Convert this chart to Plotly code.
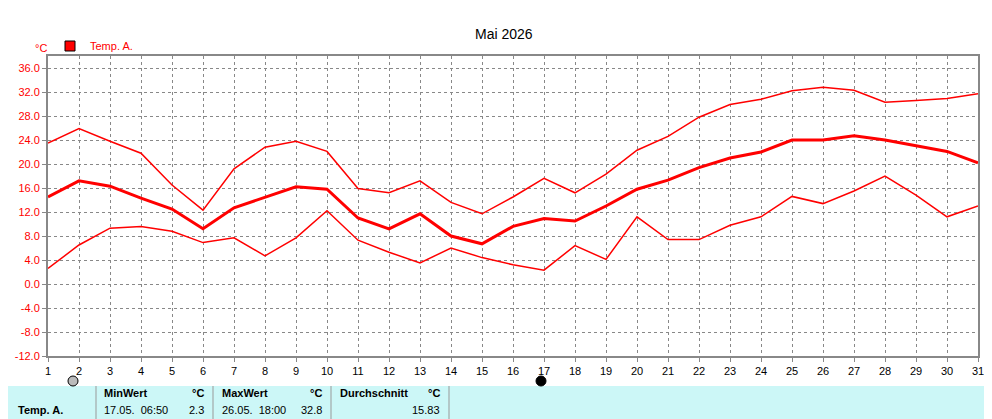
import plotly.graph_objects as go

days = list(range(1, 32))
t_max = [23.5, 25.9, 23.8, 21.8, 16.5, 12.3, 19.2, 22.8, 23.8, 22.1, 15.9, 15.2, 17.2, 13.6, 11.7, 14.5,
         17.6, 15.2, 18.3, 22.3, 24.6, 27.8, 29.9, 30.8, 32.2, 32.8, 32.3, 30.3, 30.6, 30.9, 31.7]
t_avg = [14.5, 17.2, 16.3, 14.3, 12.5, 9.2, 12.7, 14.4, 16.2, 15.8, 11.0, 9.2, 11.7, 8.0, 6.7, 9.6,
         10.9, 10.5, 13.0, 15.8, 17.3, 19.4, 21.0, 22.0, 24.0, 24.0, 24.7, 24.0, 23.0, 22.1, 20.2]
t_min = [2.6, 6.5, 9.3, 9.6, 8.8, 6.9, 7.7, 4.7, 7.7, 12.2, 7.3, 5.3, 3.5, 6.0, 4.4, 3.2,
         2.3, 6.4, 4.1, 11.2, 7.4, 7.4, 9.8, 11.2, 14.6, 13.4, 15.5, 18.0, 14.8, 11.2, 13.0]
y_ticks = [-12 + 4 * i for i in range(13)]

RED = "#ff0000"
FONT = "Liberation Sans"
L, R, T, B, W, H = 40, 22, 48, 71, 992, 419
PW, PH = W - L - R, H - T - B

def px(x):
    return (x - L) / PW

def py(y):
    return (H - B - y) / PH

fig = go.Figure()
fig.add_trace(go.Scatter(x=days, y=t_max, mode="lines", line=dict(color=RED, width=1.5), showlegend=False))
fig.add_trace(go.Scatter(x=days, y=t_avg, mode="lines", line=dict(color=RED, width=3), showlegend=False))
fig.add_trace(go.Scatter(x=days, y=t_min, mode="lines", line=dict(color=RED, width=1.5), showlegend=False))
# legend entry only
fig.add_trace(go.Scatter(x=[None], y=[None], mode="markers", name="Temp. A.",
                         marker=dict(symbol="square", size=10, color=RED, line=dict(color="black", width=1))))

fig.update_xaxes(range=[1, 31], tickvals=days, ticktext=[str(d) for d in days], showgrid=True,
                 gridcolor="#888", griddash="3px,3px", gridwidth=1, zeroline=False, automargin=False,
                 showline=True, linecolor="#888", linewidth=2, mirror=True,
                 ticks="outside", ticklen=4, tickcolor="#888", tickfont=dict(size=11, color="black"))
fig.update_yaxes(range=[-12, 38], tickvals=y_ticks, ticktext=[f"{v:.1f}" for v in y_ticks],
                 showgrid=True, gridcolor="#888", griddash="3px,3px", gridwidth=1, zeroline=False, automargin=False,
                 showline=True, linecolor="#888", linewidth=2, mirror=True,
                 ticks="outside", ticklen=4, tickcolor="#888", tickfont=dict(size=11, color=RED))

shapes = [dict(type="rect", xref="paper", yref="paper", x0=px(0), x1=px(W), y0=py(378), y1=py(419),
               fillcolor="#ccf7f7", line=dict(width=0), layer="below")]
for xb in [88, 205, 323, 441]:
    shapes.append(dict(type="line", xref="paper", yref="paper", x0=px(xb), x1=px(xb), y0=py(378), y1=py(419),
                       line=dict(color="#999", width=1)))
for cx, fill in [(65, "#bbb"), (533, "black"), (986, "#bbb")]:
    shapes.append(dict(type="circle", xref="paper", yref="paper", x0=px(cx - 5), x1=px(cx + 5),
                       y0=py(378), y1=py(368), fillcolor=fill, line=dict(color="black", width=1)))

ann = [dict(text="Mai 2026", x=px(496), y=py(16), xref="paper", yref="paper", showarrow=False,
            font=dict(size=14, color="black")),
       dict(text="°C", x=px(25), y=py(32), xref="paper", yref="paper", showarrow=False,
            font=dict(size=11, color=RED))]
cells = [("<b>Temp. A.</b>", 8, 410, "left"), ("<b>MinWert</b>", 94, 393, "left"), ("<b>°C</b>", 198, 393, "right"),
         ("17.05.  06:50", 94, 410, "left"), ("2.3", 198, 410, "right"),
         ("<b>MaxWert</b>", 212, 393, "left"), ("<b>°C</b>", 316, 393, "right"),
         ("26.05.  18:00", 212, 410, "left"), ("32.8", 316, 410, "right"),
         ("<b>Durchschnitt</b>", 330, 393, "left"), ("<b>°C</b>", 434, 393, "right"),
         ("15.83", 434, 410, "right")]
for text, x, y, al in cells:
    ann.append(dict(text=text, x=px(x), y=py(y), xref="paper", yref="paper", showarrow=False,
                    xanchor=al, font=dict(size=11, color="black")))

fig.update_layout(
    width=W, height=H, margin=dict(l=L, r=R, t=T, b=B, autoexpand=False),
    paper_bgcolor="white", plot_bgcolor="white",
    font=dict(family=FONT, size=11),
    shapes=shapes, annotations=ann,
    legend=dict(x=px(42), y=py(38), xanchor="left", yanchor="middle", orientation="h",
                font=dict(size=11, color=RED), bgcolor="rgba(0,0,0,0)"),
)

fig.write_html("out.html")
